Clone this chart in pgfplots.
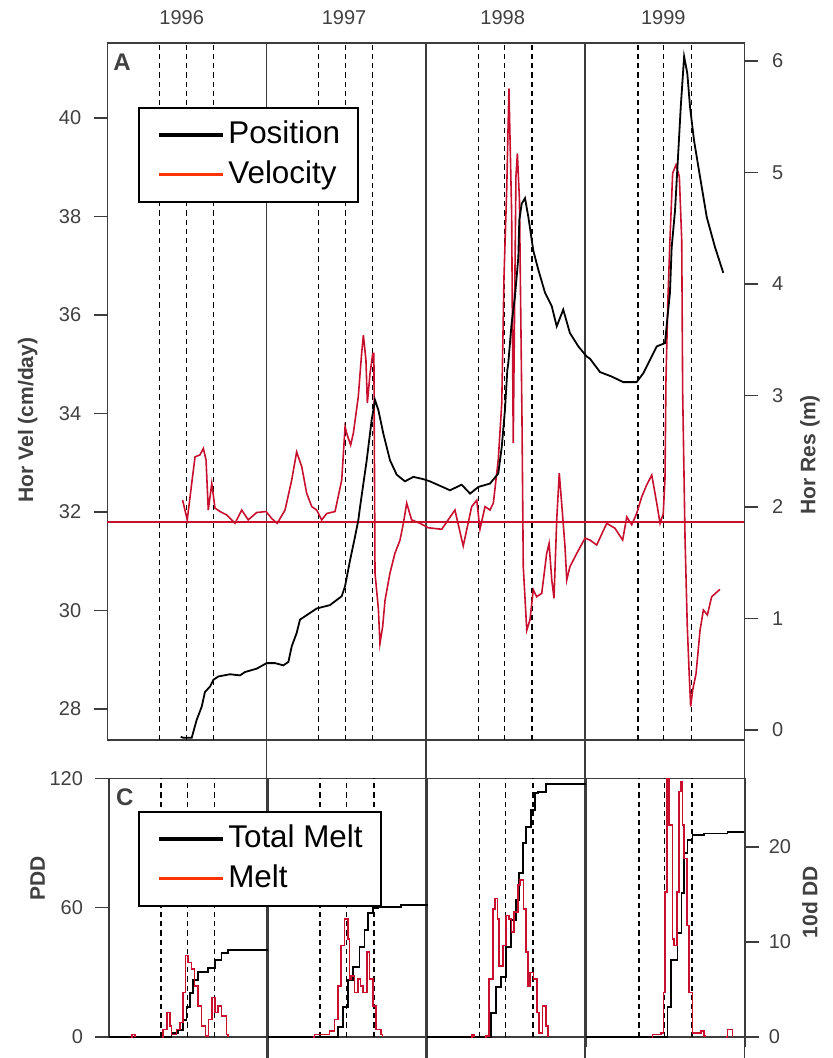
\documentclass[border=0pt]{standalone}
\usepackage{fontspec}
\setmainfont{Liberation Sans}
\usepackage{pgfplots}
\pgfplotsset{compat=1.18}

\definecolor{framegray}{RGB}{60,60,60}
\definecolor{labelgray}{RGB}{64,64,64}
\definecolor{datared}{RGB}{200,16,46}
\definecolor{keyred}{RGB}{255,51,0}

\pgfplotsset{
  panel/.style={
    scale only axis, clip=false,
    xmin=0, xmax=400, xtick=\empty,
    axis line style={draw=framegray, line width=0.8pt},
    tick align=outside, major tick length=6.8pt,
    tick style={draw=framegray, line width=0.8pt},
    /pgf/number format/assume math mode=true,
    yticklabel style={font=\fontsize{10}{12}\selectfont, text=labelgray},
    every axis y label/.style={rotate=90, anchor=center,
      font=\bfseries\fontsize{10.5}{12}\selectfont, text=labelgray},
  },
  key/.style={
    legend style={draw=black, line width=1pt, fill=white,
      font=\fontsize{15.7}{18}\selectfont, inner xsep=9pt, inner ysep=6pt,
      row sep=5pt, cells={anchor=west},
      nodes={inner sep=0pt, text height=12pt, text depth=3pt},
      /tikz/every even column/.append style={column sep=4pt}},
    legend image code/.code={\draw[##1] (0pt,0pt) -- (32pt,0pt);},
  },
}
\tikzset{
  yearline/.style={draw=framegray, line width=0.8pt},
  seasonline/.style={draw=black, line width=0.6pt, dash pattern=on 2.6pt off 2pt},
}

\begin{document}
\begin{tikzpicture}
\useasboundingbox (0pt,0pt) rectangle (416.5pt,-529pt);

% ---------------- Panel A: horizontal velocity (left scale) ----------------
\begin{axis}[panel, at={(53.65pt,-21.35pt)}, anchor=north west,
  width=318.5pt, height=348.65pt,
  ymin=27.371, ymax=41.529, ytick={28,30,...,40}, ytick pos=left,
  yticklabel style={xshift=-2.7pt},
  ylabel={Hor Vel (cm/day)},
  ylabel style={at={(axis description cs:-0.1248,0.459)}}]
  % season markers
  \pgfplotsinvokeforeach{32.8,49.6,66.7,132.8,149.6,166.7,233.2,249.5,266.7,333.3,349.5,366.7}{
    \draw[seasonline] ({axis cs:#1,30} |- {rel axis cs:0,0}) -- ({axis cs:#1,30} |- {rel axis cs:0,1});}
  % year boundaries
  \pgfplotsinvokeforeach{100,200,300}{
    \draw[yearline] ({axis cs:#1,30} |- {rel axis cs:0,0}) -- ({axis cs:#1,30} |- {rel axis cs:0,1}) -- ++(0,13pt);}
  \draw[yearline] (rel axis cs:1,1) -- ++(0,13pt);
  \node[font=\fontsize{10}{12}\selectfont, text=labelgray, yshift=12.5pt] at (rel axis cs:0.1168,1) {1996};
  \node[font=\fontsize{10}{12}\selectfont, text=labelgray, yshift=12.5pt] at (rel axis cs:0.3716,1) {1997};
  \node[font=\fontsize{10}{12}\selectfont, text=labelgray, yshift=12.5pt] at (rel axis cs:0.6207,1) {1998};
  \node[font=\fontsize{10}{12}\selectfont, text=labelgray, yshift=12.5pt] at (rel axis cs:0.8728,1) {1999};
  \node[font=\bfseries\fontsize{12}{14}\selectfont, text=labelgray, xshift=7.35pt, yshift=-9.65pt] at (rel axis cs:0,1) {A};
  % mean velocity
  \addplot[datared, line width=0.8pt] coordinates {(0,31.8) (400,31.8)};
  % daily velocity
  \addplot[datared, line width=0.8pt] coordinates {
    (47.3,32.24) (50.2,31.84) (53.0,32.58) (55.1,33.12) (58.2,33.16) (60.3,33.29)
    (62.0,33.06) (63.4,32.04) (65.6,32.58) (67.6,32.08) (70.8,32.01) (75.0,31.94)
    (80.2,31.77) (84.4,32.04) (88.5,31.84) (93.8,31.99) (99.7,32.01) (103.2,31.87)
    (106.7,31.77) (111.6,32.04) (115.8,32.65) (118.9,33.22) (122.1,32.92) (125.2,32.38)
    (128.4,32.11) (131.5,32.04) (134.6,31.84) (137.8,31.97) (143.0,32.01) (147.2,32.65)
    (149.3,33.73) (150.7,33.56) (152.8,33.36) (154.5,33.60) (157.6,34.34) (159.7,35.22)
    (160.8,35.59) (162.4,35.09) (163.3,34.21) (165.0,34.82) (166.7,35.22) (167.4,35.22)
    (168.1,30.76) (170.2,30.04) (171.2,29.33) (172.9,29.67) (174.4,30.21) (177.5,30.76)
    (180.6,31.16) (183.8,31.43) (185.9,31.77) (188.0,32.18) (191.1,31.84) (196.4,31.77)
    (201.6,31.68) (210.0,31.65) (218.3,32.04) (223.5,31.31) (228.8,32.11) (232.0,32.24)
    (234.0,31.65) (237.2,32.11) (240.3,32.04) (242.4,32.18) (245.5,33.06) (247.7,34.21)
    (249.1,36.78) (250.8,38.54) (252.2,40.60) (253.9,38.07) (254.9,33.40) (256.6,38.81)
    (257.5,39.28) (258.8,38.34) (260.4,33.87) (261.2,30.89) (263.4,29.60) (265.4,29.81)
    (267.5,30.42) (269.6,30.28) (272.8,30.35) (275.9,31.16) (277.4,31.36) (279.1,30.62)
    (280.5,30.25) (282.2,31.84) (283.8,32.79) (285.3,32.18) (287.4,31.30) (288.5,30.62)
    (290.5,30.89) (294.8,31.16) (300.0,31.47) (303.1,31.43) (307.3,31.33) (313.6,31.77)
    (318.8,31.67) (323.6,31.43) (326.2,31.90) (329.3,31.74) (332.4,31.97) (335.6,32.31)
    (338.7,32.55) (341.9,32.75) (345.0,32.18) (347.1,31.77) (349.1,31.97) (350.2,32.68)
    (350.8,34.68) (352.0,36.30) (353.3,37.52) (355.0,38.88) (357.1,39.05) (359.2,38.81)
    (360.7,37.52) (361.3,34.41) (362.8,31.43) (364.2,29.67) (365.3,28.79) (366.3,28.05)
    (367.6,28.39) (369.7,28.72) (372.2,29.60) (374.3,30.01) (376.8,29.91) (379.5,30.28)
    (384.7,30.43)};
\end{axis}

% ---------------- Panel A: horizontal position (right scale) ----------------
\begin{axis}[panel, key, at={(53.65pt,-21.35pt)}, anchor=north west,
  width=318.5pt, height=348.65pt,
  ymin=-0.0897, ymax=6.164, ytick={0,...,6},
  axis x line=none, axis y line*=right,
  yticklabel style={xshift=3.6pt},
  ylabel={Hor Res (m)},
  ylabel style={at={(axis description cs:1.103,0.409)}},
  legend style={at={(axis description cs:0.0487,0.9082)}, anchor=north west}]
  \addplot[black, line width=0.9pt, forget plot] coordinates {
    (46.1,-0.06) (47.7,-0.07) (53.0,-0.07) (56.1,0.09) (59.3,0.21) (61.3,0.34)
    (64.5,0.39) (66.6,0.45) (69.7,0.48) (77.0,0.50) (83.3,0.49) (86.5,0.52)
    (93.8,0.55) (100.1,0.60) (105.3,0.60) (110.5,0.58) (113.7,0.61) (115.8,0.75)
    (118.9,0.87) (121.0,0.99) (125.2,1.03) (131.5,1.09) (139.8,1.12) (147.2,1.20)
    (149.3,1.29) (152.4,1.52) (155.5,1.73) (157.6,1.88) (158.7,2.00) (162.9,2.42)
    (166.0,2.78) (168.1,2.96) (170.2,2.87) (173.3,2.66) (177.5,2.42) (181.7,2.29)
    (186.9,2.23) (192.2,2.27) (198.4,2.25) (202.6,2.23) (215.2,2.15) (222.5,2.20)
    (227.8,2.12) (233.0,2.18) (240.3,2.21) (245.5,2.30) (247.7,2.54) (249.7,2.87)
    (251.2,3.23) (251.8,3.29) (253.9,3.65) (256.0,3.89) (258.1,4.24) (258.7,4.57)
    (260.2,4.72) (262.3,4.77) (264.4,4.60) (267.5,4.30) (270.6,4.13) (274.9,3.92)
    (279.1,3.80) (282.2,3.62) (286.3,3.77) (290.5,3.56) (295.8,3.44) (301.0,3.35)
    (303.1,3.33) (309.4,3.21) (316.7,3.17) (324.0,3.12) (332.4,3.12) (336.6,3.20)
    (340.8,3.32) (345.0,3.44) (350.2,3.47) (351.6,3.68) (353.3,3.92) (354.4,4.33)
    (356.5,4.66) (358.6,5.20) (360.1,5.59) (362.2,6.04) (364.2,5.89) (365.9,5.59)
    (368.4,5.29) (372.2,4.96) (376.4,4.60) (381.6,4.33) (386.8,4.10)};
  \addlegendimage{black, line width=2pt}
  \addlegendentry{\hspace{1.5pt}Position\hspace{2.2pt}}
  \addlegendimage{keyred, line width=1.6pt}
  \addlegendentry{\hspace{1.5pt}Velocity}
\end{axis}

% ---------------- Panel C: cumulative melt (left scale) ----------------
\begin{axis}[panel, at={(54.4pt,-389.15pt)}, anchor=north west,
  width=318.1pt, height=129.2pt,
  ymin=0, ymax=120, ytick={0,60,120}, ytick pos=left,
  yticklabel style={xshift=-2.6pt},
  ylabel={PDD},
  ylabel style={at={(axis description cs:-0.112,0.614)}}]
  \pgfplotsinvokeforeach{32.8,49.6,66.7,132.8,149.6,166.7,233.2,249.5,266.7,333.3,349.5,366.7}{
    \draw[seasonline] ({axis cs:#1,30} |- {rel axis cs:0,0}) -- ({axis cs:#1,30} |- {rel axis cs:0,1});}
  \pgfplotsinvokeforeach{100,200}{
    \draw[yearline] ({axis cs:#1,30} |- {rel axis cs:0,1}) -- ({axis cs:#1,30} |- {rel axis cs:0,0}) -- ++(0,-10.65pt);}
  \draw[yearline] (rel axis cs:0.75,1) -- (rel axis cs:0.75,0) -- ++(0,-5.2pt);
  \draw[yearline] (rel axis cs:1,0) -- ++(0,-5.2pt);
  \node[font=\bfseries\fontsize{12}{14}\selectfont, text=labelgray, xshift=7.95pt, yshift=-9.5pt] at (rel axis cs:0,1) {C};
  \addplot[black, line width=0.9pt, const plot] coordinates {
    (0,0) (37.3,0) (39.4,1.6) (43.6,3.1) (46.7,7.7) (48.8,13.9) (50.9,20.2) (53.0,26.3)
    (56.1,30.2) (62.4,31.8) (66.6,35.6) (70.8,38.7) (75.0,40.3) (100,40.3)};
  \addplot[black, line width=0.9pt, const plot] coordinates {
    (100,0) (141.9,0) (144.1,4.6) (147.2,13.9) (150.3,26.3) (153.5,32.5) (157.6,41.8)
    (160.8,49.6) (162.9,57.3) (166.1,59.6) (169.2,60.4) (183.8,61.2) (200,61.5)};
  \addplot[black, line width=0.9pt, const plot] coordinates {
    (200,0) (238.2,0) (240.3,10.9) (243.5,23.2) (246.6,27.9) (249.7,41.8) (252.9,54.2)
    (256.0,63.5) (258.1,75.9) (260.2,89.8) (262.3,97.5) (265.4,105.3) (267.9,113.1)
    (269.6,113.8) (274.8,117.4) (300,117.4)};
  \addplot[black, line width=0.9pt, const plot] coordinates {
    (300,0) (349.1,0) (351.3,13.9) (353.3,35.6) (357.6,48.0) (360.1,66.6) (361.4,85.2)
    (363.8,91.3) (367.0,93.6) (374.3,94.4) (389.0,95.2) (400,95.2)};
\end{axis}

% ---------------- Panel C: 10-day melt (right scale) ----------------
\begin{axis}[panel, key, at={(54.4pt,-389.15pt)}, anchor=north west,
  width=318.1pt, height=129.2pt,
  ymin=0, ymax=27.2, ytick={0,10,20},
  axis x line=none, axis y line*=right,
  yticklabel style={xshift=1.6pt},
  ylabel={10d DD},
  ylabel style={at={(axis description cs:1.102,0.521)}},
  legend style={at={(axis description cs:0.0464,0.8746)}, anchor=north west}]
  \addplot[datared, line width=0.8pt, const plot, forget plot] coordinates {
    (14.0,0) (14.5,0.25) (16.0,0.25) (16.5,0)};
  \addplot[datared, line width=0.8pt, const plot, forget plot] coordinates {
    (33.5,0) (34.2,0.77) (36.7,2.54) (38.3,1.12) (39.4,0.24) (42.5,0.77) (44.6,1.48)
    (46.7,4.66) (48.2,8.53) (49.9,7.83) (51.9,7.12) (54.0,5.35) (56.1,3.24) (58.2,1.12)
    (60.7,0.06) (62.8,1.83) (64.9,4.13) (66.6,2.54) (68.7,3.24) (70.8,2.18) (73.9,0.24)
    (75.0,0)};
  \addplot[datared, line width=0.8pt, const plot, forget plot] coordinates {
    (128.5,0) (129.4,0.24) (138.8,0.59) (141.9,1.83) (144.1,5.35) (146.1,9.59)
    (148.2,12.41) (150.3,10.29) (151.3,6.06) (152.4,6.41) (154.5,4.66) (156.6,6.06)
    (158.2,5.35) (159.7,4.66) (162.4,8.89) (163.9,6.06) (166.0,3.24) (168.1,0.77)
    (171.2,0.24) (172.0,0)};
  \addplot[datared, line width=0.8pt, const plot, forget plot] coordinates {
    (227.8,0) (228.2,0.25) (229.7,0)};
  \addplot[datared, line width=0.8pt, const plot, forget plot] coordinates {
    (236.5,0) (237.3,0.06) (239.2,6.06) (241.4,13.47) (242.8,14.53) (244.5,12.41)
    (245.5,7.47) (247.7,9.59) (249.7,12.76) (251.8,12.41) (253.3,11.01) (254.9,13.12)
    (257.1,15.94) (258.7,16.47) (260.8,13.47) (262.3,8.89) (263.4,5.35) (265.0,6.77)
    (267.1,6.06) (269.2,2.54) (270.6,0.42) (272.8,3.24) (274.8,1.12) (276.0,0)};
  \addplot[datared, line width=0.8pt, const plot, forget plot] coordinates {
    (341.5,0) (341.9,0.24) (347.1,0.42) (348.8,4.66) (349.8,15.24) (350.8,27.1)
    (352.3,22.29) (354.4,10.29) (355.4,9.59) (357.1,15.24) (358.6,25.82) (359.6,26.88)
    (360.7,22.29) (361.7,18.76) (363.4,11.70) (364.8,4.66) (367.0,0.42) (372.2,0.59)
    (374.3,0.06) (375.0,0)};
  \addplot[datared, line width=0.8pt, const plot, forget plot] coordinates {
    (388.0,0) (389.0,0.77) (392.1,0)};
  \addlegendimage{black, line width=2pt}
  \addlegendentry{\hspace{1.5pt}Total Melt}
  \addlegendimage{keyred, line width=1.6pt}
  \addlegendentry{\hspace{1.5pt}Melt}
\end{axis}
\end{tikzpicture}
\end{document}
